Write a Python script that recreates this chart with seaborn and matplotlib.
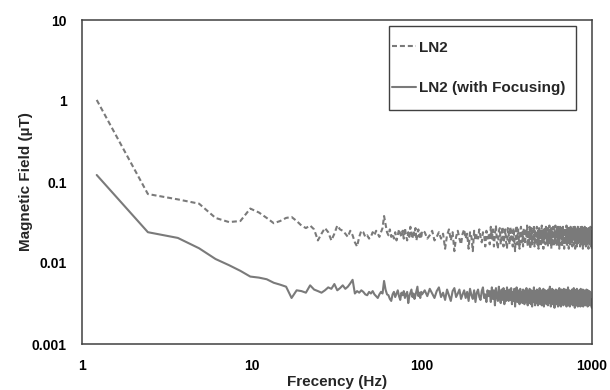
import numpy as np
import pandas as pd
import matplotlib
matplotlib.use("Agg")
import matplotlib.pyplot as plt
from matplotlib.ticker import NullLocator
from matplotlib.patches import Rectangle
import seaborn as sns

# ---------------- data ----------------
DF_HZ = 1.2207                      # FFT bin width (Hz)
BINS = list(range(1, 83)) + list(range(85, 820, 3))   # FFT bin numbers drawn

# magnetic field in nT
LN2_NT = [
    1030, 71, 61, 54, 36, 32, 33, 47, 42, 36, 31, 33, 36, 37, 33, 29, 27, 29, 26, 19,
    23, 27, 24, 19, 23, 29, 26, 25, 23, 21, 25, 22, 18, 16, 21, 25, 24, 21, 22, 20,
    21, 24, 22, 25, 23, 21, 24, 27, 38, 30, 24,
    22, 26, 21, 23, 20, 24, 19, 22, 26, 23, 21, 25, 20, 27, 22, 19, 24, 21, 28, 23,
    20, 25, 22, 27, 19, 23, 26, 21, 24, 20, 25,
    24, 20, 22, 25, 19, 21, 24, 20, 23, 15, 22, 26, 19, 24, 14, 21, 25, 20, 17, 23,
    26, 20, 23, 15, 24, 21, 14, 25, 19, 23, 20, 26, 21, 18, 24, 22, 16, 25, 20, 23,
    17, 28, 20, 26, 16, 23, 29, 18, 15, 25, 27, 17, 23, 28, 16, 21, 26, 18, 15, 27,
    23, 17, 28, 20, 25, 16, 27, 19, 14, 23, 29, 17, 26, 20, 15, 25, 28, 18, 24, 16,
    27, 19, 17, 26, 21, 29, 16, 25, 18, 28, 15, 23, 27, 17, 25, 20, 29, 16, 26, 18,
    23, 28, 17, 25, 15, 27, 20, 26, 16, 23, 29, 18, 25, 15, 27, 20, 26, 17, 28, 21,
    18, 27, 16, 25, 20, 29, 17, 26, 21, 15, 27, 18, 25, 28, 16, 23, 26, 17, 29, 20,
    25, 16, 27, 20, 28, 18, 23, 15, 26, 29, 17, 25, 20, 27, 16, 23, 28, 18, 26, 15,
    23, 27, 17, 25, 20, 29, 16, 26, 18, 28, 21, 15, 27, 20, 25, 17, 28, 21, 26, 18,
    27, 16, 25, 20, 29, 17, 26, 21, 28, 15, 25, 18, 27, 20, 16, 26, 21, 28, 17, 25,
    20, 27, 18, 26, 16, 23, 29, 17, 25, 20, 28, 18, 26, 15, 23, 27, 17, 25, 20, 28,
    18, 26, 21, 16, 27, 20, 25, 17, 28, 21, 26, 18, 15, 27, 20, 25, 17, 26, 21, 28,
    19, 25, 16, 22, 15,
]

LN2_FOCUS_NT = [
    122, 24, 20.4, 15.2, 11.2, 9.4, 8.0, 6.8, 6.6, 6.3, 5.7, 5.4, 5.1, 3.7, 4.6, 4.5, 4.3, 5.3, 4.7, 4.5,
    4.3, 4.6, 5.0, 4.8, 5.5, 4.6, 4.9, 5.3, 4.8, 5.1, 5.6, 6.2, 4.2, 4.5, 4.3, 4.6, 4.4, 4.1, 4.0, 4.4,
    4.2, 4.5, 4.1, 3.9, 3.7, 4.1, 4.4, 4.2, 6.0, 4.7, 4.1,
    4.0, 3.6, 3.4, 4.1, 4.4, 3.8, 4.2, 4.6, 3.9, 3.5, 4.3, 4.0, 4.5, 3.7, 4.1, 4.4, 3.2, 3.9, 4.3, 4.7,
    3.8, 4.2, 3.6, 4.0, 4.5, 5.1, 3.9, 4.3, 3.7, 4.4, 4.1,
    4.6, 3.9, 4.8, 4.2, 3.7, 4.5, 5.0, 3.8, 4.3, 3.5, 4.7, 4.0, 3.4, 4.5, 4.9, 3.8, 4.2, 4.7, 3.6, 4.1,
    4.6, 3.7, 4.4, 3.4, 4.8, 4.0, 3.6, 4.6, 3.3, 4.3, 4.7, 3.8, 3.5, 4.5, 5.0, 3.7, 4.1, 3.3, 4.6, 3.9,
    4.5, 3.3, 5.0, 3.6, 4.6, 3.0, 4.9, 3.9, 3.4, 5.1, 3.7, 3.2, 4.7, 3.5, 4.9, 3.1, 4.5, 3.4, 5.0, 3.8,
    3.4, 4.7, 3.5, 4.9, 3.1, 4.4, 3.4, 4.8, 2.9, 4.2, 5.0, 3.3, 4.6, 3.6, 3.1, 4.8, 3.4, 4.4, 3.2, 4.7,
    3.6, 3.1, 4.6, 3.3, 4.9, 3.4, 3.0, 4.5, 3.2, 4.8, 3.6, 3.1, 4.6, 2.9, 4.3, 3.3, 5.0, 3.5, 3.0, 4.5,
    3.2, 4.7, 3.4, 3.0, 4.5, 3.3, 4.9, 3.1, 3.6, 4.6, 3.0, 4.4, 3.3, 4.8, 2.9, 3.6, 3.2, 4.6, 3.5, 3.1,
    4.5, 3.3, 3.0, 4.7, 3.4, 3.2, 5.1, 3.6, 2.9, 4.4, 3.3, 4.8, 3.1, 3.6, 4.6, 3.2, 2.8, 4.4, 3.4, 4.7,
    3.1, 3.6, 4.6, 3.2, 2.9, 4.5, 3.4, 4.9, 3.0, 4.4, 3.3, 2.9, 4.7, 3.4, 3.2, 4.5, 3.6, 3.0, 4.8, 3.3,
    4.4, 3.1, 3.4, 4.7, 3.2, 2.9, 4.5, 3.3, 3.6, 5.0, 3.0, 4.4, 3.2, 4.6, 2.9, 3.4, 4.5, 3.1, 3.6, 3.3,
    4.7, 3.2, 3.0, 4.4, 3.4, 4.9, 3.1, 3.6, 2.8, 4.6, 3.3, 4.4, 3.0, 3.4, 4.8, 3.2, 3.6, 2.9, 4.5, 3.3,
    3.1, 4.6, 3.4, 3.2, 4.4, 2.9, 4.8, 3.3, 3.6, 3.0, 4.5, 3.4, 3.2, 4.7, 2.9, 3.6, 3.3, 4.6, 3.1, 4.4,
    3.4, 3.0, 4.5, 3.2, 3.6, 4.7, 3.1, 3.3, 4.4, 2.9, 4.6, 3.4, 3.2, 3.6, 3.0, 4.5, 3.3, 3.1, 4.4, 3.2,
    3.6, 3.0, 3.4, 2.9, 2.8,
]

SERIES = ["LN2", "LN2 (with Focusing)"]
X_TICKS = [1, 10, 100, 1000]
X_TICK_LABELS = ["1", "10", "100", "1000"]
Y_TICKS = [0.001, 0.01, 0.1, 1, 10]
Y_TICK_LABELS = ["0.001", "0.01", "0.1", "1", "10"]
X_LABEL = "Frecency (Hz)"
Y_LABEL = "Magnetic Field (µT)"

# ---------------- table ----------------
freq = np.array(BINS) * DF_HZ
assert len(freq) == len(LN2_NT) == len(LN2_FOCUS_NT)
df = pd.DataFrame({
    "freq": np.concatenate([freq, freq]),
    "field": np.concatenate([np.array(LN2_NT) / 1000.0, np.array(LN2_FOCUS_NT) / 1000.0]),
    "series": [SERIES[0]] * len(freq) + [SERIES[1]] * len(freq),
})

# ---------------- style ----------------
sns.set_style("white")
plt.rcParams["font.family"] = ["Liberation Sans", "DejaVu Sans"]

W, H = 610, 390
fig = plt.figure(figsize=(W / 100, H / 100), dpi=100)
L, R, T, B = 82, 592, 20, 344
ax = fig.add_axes([L / W, 1 - B / H, (R - L) / W, (B - T) / H])

GRAY = "#7a7a7a"
sns.lineplot(
    data=df, x="freq", y="field", hue="series", style="series",
    palette={SERIES[0]: GRAY, SERIES[1]: GRAY},
    dashes={SERIES[0]: (2.4, 1.4), SERIES[1]: ""},
    linewidth=1.5, estimator=None, sort=False, ax=ax,
)

ax.set_xscale("log")
ax.set_yscale("log")
ax.set_xlim(1, 1000)
ax.set_ylim(0.001, 10)
ax.set_xticks(X_TICKS)
ax.set_xticklabels(X_TICK_LABELS)
ax.set_yticks(Y_TICKS)
ax.set_yticklabels(Y_TICK_LABELS)
ax.xaxis.set_minor_locator(NullLocator())
ax.yaxis.set_minor_locator(NullLocator())
ax.tick_params(axis="both", length=0, labelsize=10, colors="#000000")
ax.tick_params(axis="x", pad=10.5)
ax.tick_params(axis="y", pad=11)
for lab in ax.get_xticklabels() + ax.get_yticklabels():
    lab.set_fontweight("bold")

for sp in ax.spines.values():
    sp.set_visible(True)
    sp.set_color("#404040")
    sp.set_linewidth(1.1)

ax.set_xlabel(X_LABEL, fontsize=11, fontweight="bold")
ax.set_ylabel(Y_LABEL, fontsize=11, fontweight="bold")
ax.xaxis.set_label_coords(0.5, -0.095)
ax.yaxis.set_label_coords(-0.097, 0.5)

# legend frame (Excel-style box with generous vertical padding)
frame = Rectangle((389 / W, 1 - 110 / H), 187 / W, 84 / H, transform=fig.transFigure,
                  facecolor="white", edgecolor="#404040", linewidth=1.0,
                  zorder=4, clip_on=False)
ax.add_patch(frame)

handles, labels = ax.get_legend_handles_labels()
pairs = [(h, l) for h, l in zip(handles, labels) if l in SERIES]
leg = ax.legend(
    [p[0] for p in pairs], [p[1] for p in pairs],
    loc="center left",
    bbox_to_anchor=((392 - L) / (R - L), (B - 68) / (B - T)),
    borderaxespad=0, borderpad=0, frameon=False,
    handlelength=1.6, handletextpad=0.15, labelspacing=1.75,
    prop={"weight": "bold", "size": 11},
)
leg.set_zorder(6)

fig.savefig("out.png", dpi=100)
